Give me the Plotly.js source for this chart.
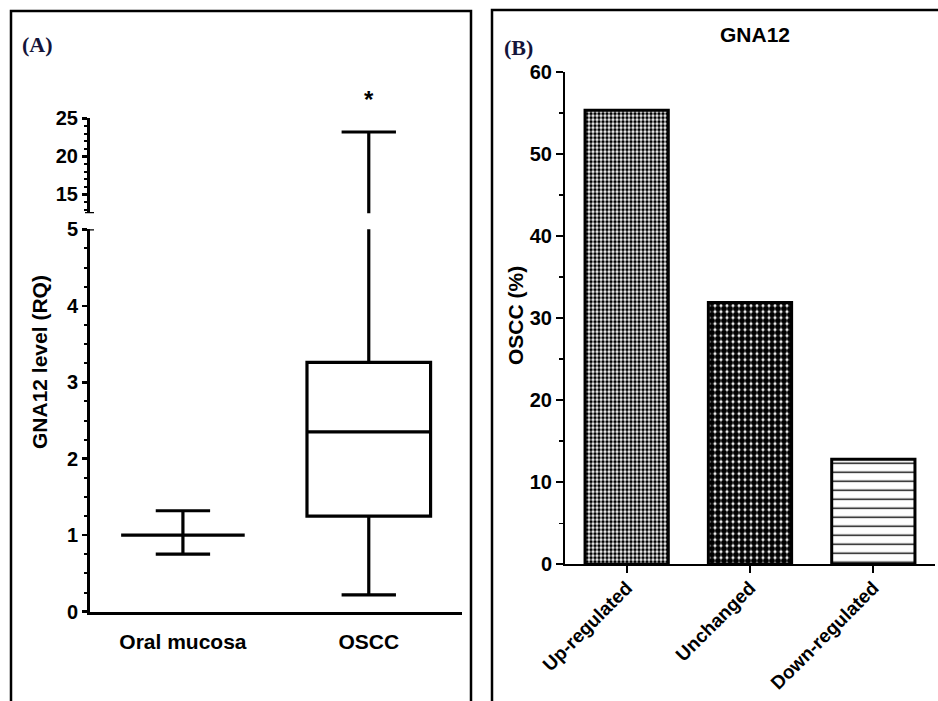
<!DOCTYPE html>
<html>
<head>
<meta charset="utf-8">
<script src="https://cdn.plot.ly/plotly-3.0.1.min.js"></script>
<style>html,body{margin:0;padding:0;background:#fff;}#chart{width:938px;height:701px;}</style>
</head>
<body>
<div id="chart"></div>
<script>
// Panel A: box summary values (GNA12 level, RQ)
var groupsA = ['Oral mucosa', 'OSCC'];
var q1A = [1.0, 1.25];
var medianA = [1.0, 2.35];
var q3A = [1.0, 3.26];
var lowerA = [0.754, 0.22];
var upperA = [1.32, 23.2];

// Panel B: % of OSCC cases
var categoriesB = ['Up-regulated', 'Unchanged', 'Down-regulated'];
var valuesB = [55.3, 31.9, 12.8];

var W = 938, H = 701;
function px(x){ return x / W; }
function py(y){ return 1 - y / H; }

var FONT = 'Liberation Sans, Arial, sans-serif';
var tickFont = {family: FONT, size: 20, color: '#000', weight: 'bold'};

var boxCommon = {
  type: 'box',
  x: groupsA, q1: q1A, median: medianA, q3: q3A,
  lowerfence: lowerA, upperfence: upperA,
  width: 0.665, whiskerwidth: 0.44,
  line: {color: '#000', width: 3.2},
  fillcolor: '#fff',
  boxpoints: false,
  hoverinfo: 'skip',
  xaxis: 'x'
};
var traceLow = Object.assign({}, boxCommon, {yaxis: 'y'});
var traceHigh = Object.assign({}, boxCommon, {yaxis: 'y2'});

var traceBar = {
  type: 'bar',
  x: categoriesB, y: valuesB,
  xaxis: 'x2', yaxis: 'y3',
  width: 0.675,
  marker: {
    color: '#fff',
    line: {color: '#000', width: 3},
    pattern: {
      shape: ['.', '.', '-'],
      size: [4, 6, 9],
      solidity: [0.6, 0.75, 0.15],
      fgcolor: '#000',
      bgcolor: '#fff'
    }
  },
  hoverinfo: 'skip'
};

var axisBase = {
  showgrid: false, zeroline: false, showline: true, linecolor: '#000',
  tickcolor: '#000', tickfont: tickFont, fixedrange: true
};

var layout = {
  width: W, height: H,
  margin: {l: 0, r: 0, t: 0, b: 0},
  paper_bgcolor: '#fff', plot_bgcolor: 'rgba(0,0,0,0)',
  showlegend: false,
  title: {text: 'GNA12', x: px(755), y: py(35), xanchor: 'center', yanchor: 'middle',
          font: {family: FONT, size: 21, color: '#000', weight: 'bold'}},
  xaxis: Object.assign({}, axisBase, {
    domain: [px(90), px(461.7)], anchor: 'y', type: 'category',
    range: [-0.5, 1.5], ticks: '', linewidth: 3,
    tickfont: {family: FONT, size: 21, color: '#000', weight: 'bold'},
    ticklabelstandoff: 9
  }),
  yaxis: Object.assign({}, axisBase, {
    domain: [py(611.7), py(229.3)], anchor: 'x',
    range: [0, 5], dtick: 1, ticks: 'outside', ticklen: 5, tickwidth: 2.5, linewidth: 3,
    minor: {dtick: 0.25, ticks: 'outside', ticklen: 3, tickwidth: 2, tickcolor: '#000'}
  }),
  yaxis2: Object.assign({}, axisBase, {
    domain: [py(213.3), py(118.3)], anchor: 'x',
    range: [12.5, 25], tickvals: [15, 20, 25], ticks: 'outside', ticklen: 5, tickwidth: 2.5, linewidth: 3,
    minor: {dtick: 1, ticks: 'outside', ticklen: 3, tickwidth: 2, tickcolor: '#000'}
  }),
  xaxis2: Object.assign({}, axisBase, {
    domain: [px(565), px(935)], anchor: 'y3', type: 'category',
    range: [-0.5, 2.5], ticks: 'outside', ticklen: 7, tickwidth: 2, linewidth: 2,
    tickangle: -45, ticklabelstandoff: -4,
    tickfont: {family: FONT, size: 19, color: '#000', weight: 'bold'}
  }),
  yaxis3: Object.assign({}, axisBase, {
    domain: [py(564.3), py(71.7)], anchor: 'x2',
    range: [0, 60], dtick: 10, ticks: 'outside', ticklen: 7, tickwidth: 2, linewidth: 2,
    minor: {dtick: 5, ticks: 'outside', ticklen: 4, tickwidth: 1.5, tickcolor: '#000'}
  }),
  annotations: [
    {text: '(A)', xref: 'paper', yref: 'paper', x: px(37), y: py(45), showarrow: false,
     xanchor: 'center', yanchor: 'middle',
     font: {family: 'Liberation Serif, Times New Roman, serif', size: 22, color: '#14143a', weight: 'bold'}},
    {text: '(B)', xref: 'paper', yref: 'paper', x: px(518), y: py(47), showarrow: false,
     xanchor: 'center', yanchor: 'middle',
     font: {family: 'Liberation Serif, Times New Roman, serif', size: 22, color: '#14143a', weight: 'bold'}},
    {text: 'GNA12 level (RQ)', xref: 'paper', yref: 'paper', x: px(39), y: py(362), showarrow: false,
     textangle: -90, xanchor: 'center', yanchor: 'middle',
     font: {family: FONT, size: 21, color: '#000', weight: 'bold'}},
    {text: 'OSCC (%)', xref: 'paper', yref: 'paper', x: px(516), y: py(316), showarrow: false,
     textangle: -90, xanchor: 'center', yanchor: 'middle',
     font: {family: FONT, size: 21, color: '#000', weight: 'bold'}},
    {text: '*', xref: 'x', yref: 'paper', x: 'OSCC', y: py(100), showarrow: false,
     xanchor: 'center', yanchor: 'middle',
     font: {family: FONT, size: 24, color: '#000', weight: 'bold'}}
  ],
  shapes: [
    {type: 'rect', xref: 'paper', yref: 'paper', x0: px(11), x1: px(471), y0: -0.05, y1: py(11),
     line: {color: '#000', width: 2.5}, fillcolor: 'rgba(0,0,0,0)', layer: 'below'},
    {type: 'rect', xref: 'paper', yref: 'paper', x0: px(492), x1: 1.05, y0: -0.05, y1: py(10),
     line: {color: '#000', width: 2.5}, fillcolor: 'rgba(0,0,0,0)', layer: 'below'},
    {type: 'line', xref: 'paper', yref: 'y', x0: px(85), x1: px(94), y0: 5, y1: 5,
     line: {color: '#000', width: 2.5}},
    {type: 'line', xref: 'paper', yref: 'y2', x0: px(85), x1: px(94), y0: 12.5, y1: 12.5,
     line: {color: '#000', width: 2.5}}
  ]
};

Plotly.newPlot('chart', [traceLow, traceHigh, traceBar], layout, {staticPlot: true, displayModeBar: false});
</script>
</body>
</html>
